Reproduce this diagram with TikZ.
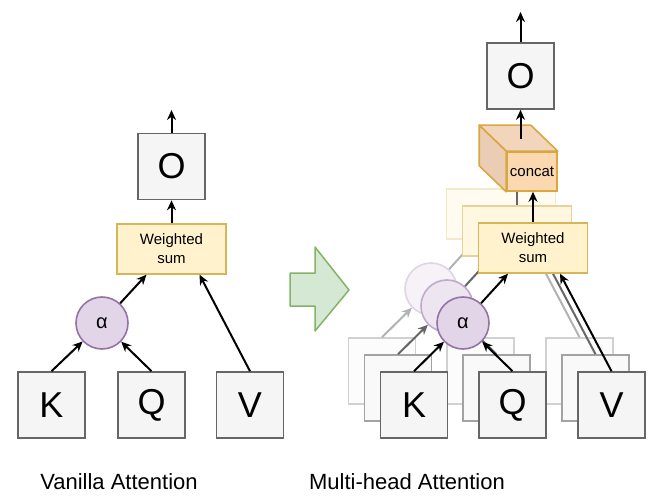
\documentclass[tikz,border=0pt]{standalone}
\usepackage{fontspec}
\setmainfont{Liberation Sans}
\usetikzlibrary{positioning,arrows.meta,calc}
\definecolor{attGray}{HTML}{666666}
\definecolor{attLight}{HTML}{F5F5F5}
\definecolor{wsFill}{HTML}{FFF2CC}
\definecolor{wsDraw}{HTML}{D6B656}
\definecolor{alFill}{HTML}{E1D5E7}
\definecolor{alDraw}{HTML}{9673A6}
\definecolor{catFill}{HTML}{FAD9B1}
\definecolor{catSide}{HTML}{EBCCB4}
\definecolor{catTopC}{HTML}{F3D5BC}
\definecolor{catDraw}{HTML}{D9A740}
\definecolor{goFill}{HTML}{D5E8D4}
\definecolor{goDraw}{HTML}{82B366}
\newcommand\headlbl[1]{\ifnum\k=0 #1\fi}
\tikzset{
    letter/.style={rectangle, draw=attGray, fill=attLight, line width=1.6pt,
                   minimum width=67pt, minimum height=66pt, inner sep=0pt,
                   font=\fontsize{36}{36}\selectfont},
    wsum/.style={rectangle, draw=wsDraw, fill=wsFill, line width=1.4pt,
                 minimum width=109pt, minimum height=50pt, inner sep=0pt,
                 align=center, font=\fontsize{15}{19}\selectfont},
    weight/.style={circle, draw=alDraw, fill=alFill, line width=1.6pt,
                   minimum size=52pt, inner sep=0pt, font=\fontsize{20}{20}\selectfont},
    flow/.style={-{Stealth[length=10pt,width=9pt]}, line width=2pt},
    caption/.style={font=\fontsize{22}{22}\selectfont}
}
\begin{document}
\begin{tikzpicture}[x=1pt, y=-1pt]
  \useasboundingbox (0,0) rectangle (660,502);

  % Vanilla attention
  \node[letter] (Kl) at (51.5,405) {K};
  \node[letter] (Ql) at (151.5,405) {Q};
  \node[letter] (Vl) at (250,405) {V};
  \node[weight] (al) at (102,323) {α};
  \node[wsum] (Wl) at (171.5,249) {Weighted\\sum};
  \node[letter] (Ol) at (171.5,166.5) {O};
  \coordinate (outL) at (171.5,110);
  \draw[flow] (Kl.north) -- (al);
  \draw[flow] (Ql.north) -- (al);
  \draw[flow] (al) -- ([xshift=-25pt]Wl.south);
  \draw[flow] (Vl.north) -- ([xshift=28pt]Wl.south);
  \draw[flow] (Wl.north) -- (Ol.south);
  \draw[flow] (Ol.north) -- (outL);

  % Arrow between the two
  \draw[goDraw, fill=goFill, line width=1.5pt, line join=round]
    (290,273) -- (315,273) -- (315,247) -- (349,290) -- (315,331)
    -- (315,306) -- (290,306) -- cycle;

  % Multi-head attention, back heads first
  \foreach \k/\f in {2/30,1/60,0/100} {
    \begin{scope}[shift={(-16*\k,-17*\k)}]
      \node[letter, draw=attGray!\f!white, fill=attLight!\f!white] (K\k) at (414,405) {\headlbl{K}};
      \node[letter, draw=attGray!\f!white, fill=attLight!\f!white] (Q\k) at (512.5,405) {\headlbl{Q}};
      \node[letter, draw=attGray!\f!white, fill=attLight!\f!white] (V\k) at (611.5,405) {\headlbl{V}};
      \node[wsum, draw=wsDraw!\f!white, fill=wsFill!\f!white] (W\k) at (533,248) {\headlbl{Weighted\\sum}};
      \draw[flow, draw=black!\f!white] (V\k.north) -- ([xshift=27pt]W\k.south);
      \node[weight, draw=alDraw!\f!white, fill=alFill!\f!white] (a\k) at (463,323) {\headlbl{α}};
      \draw[flow, draw=black!\f!white] (K\k.north) -- (a\k);
      \draw[flow, draw=black!\f!white] (Q\k.north) -- (a\k);
      \draw[flow, draw=black!\f!white] (a\k) -- ([xshift=-25pt]W\k.south);
    \end{scope}
  }
  \draw[line width=2pt, black!60!white] (W1.north) -- ++(0,-16);

  % Concat cube
  \node[rectangle, draw=catDraw, fill=catFill, line width=1.6pt, minimum width=50pt,
        minimum height=39pt, inner sep=0pt, font=\fontsize{15}{15}\selectfont]
        (catF) at (532,171.5) {concat};
  \draw[catDraw, fill=catTopC, line width=1.6pt, line join=round]
    (catF.north west) -- ++(-27,-26) -- ($(catF.north east)+(-27,-26)$)
    -- (catF.north east) -- cycle;
  \draw[catDraw, fill=catSide, line width=1.6pt, line join=round]
    (catF.north west) -- ++(-27,-26) -- ($(catF.south west)+(-27,-26)$)
    -- (catF.south west) -- cycle;
  \draw[flow] (W0.north) -- (W0.north |- catF.south);

  \node[letter] (Or) at (520.5,76) {O};
  \coordinate (catTop) at (520.5,139);
  \coordinate (outR) at (520.5,12);
  \draw[flow] (catTop) -- (Or.south);
  \draw[flow] (Or.north) -- (outR);

  % Captions
  \node[caption] (capL) at (119,482) {Vanilla Attention};
  \node[caption] (capR) at (407,482) {Multi-head Attention};
\end{tikzpicture}
\end{document}
